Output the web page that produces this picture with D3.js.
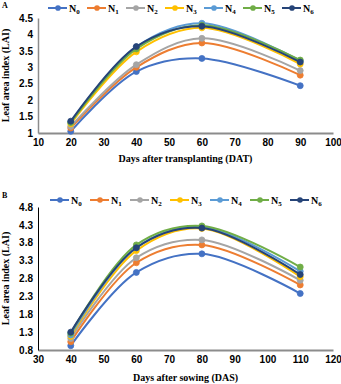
<!DOCTYPE html>
<html>
<head>
<meta charset="utf-8">
<script src="https://cdn.jsdelivr.net/npm/d3@7"></script>
<style>
  body { margin: 0; background: #fff; }
  svg { display: block; font-family: "Liberation Serif", "Times New Roman", serif; }
  .tick text { font-size: 10px; font-weight: bold; fill: #000; }
</style>
</head>
<body>
<div id="chart"></div>
<script>
const seriesNames = ['N0', 'N1', 'N2', 'N3', 'N4', 'N5', 'N6'];
const seriesColors = ['#4472C4', '#ED7D31', '#A5A5A5', '#FFC000', '#5B9BD5', '#70AD47', '#264478'];

// Panel A: days after transplanting
const daysA = [20, 40, 60, 90];
const laiA = [
    [1.05, 2.87, 3.27, 2.44],
    [1.15, 3.00, 3.74, 2.76],
    [1.20, 3.08, 3.88, 2.90],
    [1.28, 3.47, 4.20, 3.10],
    [1.33, 3.62, 4.34, 3.20],
    [1.32, 3.56, 4.28, 3.22],
    [1.36, 3.63, 4.25, 3.16]
];
const xTicksA = [10, 20, 30, 40, 50, 60, 70, 80, 90, 100];
const yTicksA = [1, 1.5, 2, 2.5, 3, 3.5, 4, 4.5];

// Panel B: days after sowing
const daysB = [40, 60, 80, 110];
const laiB = [
    [0.92, 2.97, 3.49, 2.38],
    [1.03, 3.24, 3.74, 2.62],
    [1.12, 3.38, 3.88, 2.75],
    [1.18, 3.58, 4.20, 2.85],
    [1.22, 3.66, 4.24, 3.00],
    [1.27, 3.74, 4.27, 3.12],
    [1.30, 3.66, 4.21, 2.91]
];
const xTicksB = [30, 40, 50, 60, 70, 80, 90, 100, 110, 120];
const yTicksB = [0.8, 1.3, 1.8, 2.3, 2.8, 3.3, 3.8, 4.3, 4.8];

const W = 341, H = 384;
const svg = d3.select('#chart').append('svg').attr('width', W).attr('height', H);

function drawPanel(opt) {
    const g = svg.append('g');
    const x = d3.scaleLinear().domain(d3.extent(opt.xTicks)).range([opt.left, opt.right]);
    const y = d3.scaleLinear().domain(d3.extent(opt.yTicks)).range([opt.bottom, opt.top]);

    // panel letter
    g.append('text').attr('x', 2).attr('y', opt.letterY)
        .style('font-size', '8px').style('font-weight', 'bold').text(opt.letter);

    // axes
    const xAxisG = g.append('g').attr('transform', `translate(0,${opt.bottom})`)
        .call(d3.axisBottom(x).tickValues(opt.xTicks).tickSize(0).tickPadding(6));
    xAxisG.select('.domain').attr('stroke', '#8c8c8c').attr('stroke-width', 2.2);

    const yAxisG = g.append('g').attr('transform', `translate(${opt.left},0)`)
        .call(d3.axisLeft(y).tickValues(opt.yTicks).tickSize(0).tickPadding(5)
            .tickFormat(opt.yFormat));
    yAxisG.select('.domain').attr('stroke', opt.yAxisColor).attr('stroke-width', opt.yAxisWidth);

    // axis titles
    g.append('text').attr('x', (opt.left + opt.right) / 2).attr('y', opt.xTitleY)
        .attr('text-anchor', 'middle').style('font-size', '10px').style('font-weight', 'bold')
        .text(opt.xTitle);
    g.append('text')
        .attr('transform', `translate(9,${(opt.top + opt.bottom) / 2}) rotate(-90)`)
        .attr('text-anchor', 'middle').style('font-size', '10px').style('font-weight', 'bold')
        .text('Leaf area index (LAI)');

    // series
    const line = d3.line().x(d => x(d[0])).y(d => y(d[1])).curve(d3.curveCatmullRom.alpha(0.5));
    opt.values.forEach((vals, i) => {
        const pts = opt.days.map((d, j) => [d, vals[j]]);
        g.append('path').datum(pts)
            .attr('d', line).attr('fill', 'none')
            .attr('stroke', seriesColors[i]).attr('stroke-width', 2);
        g.selectAll(null).data(pts).enter().append('circle')
            .attr('cx', d => x(d[0])).attr('cy', d => y(d[1])).attr('r', 3)
            .attr('fill', seriesColors[i]).attr('stroke', seriesColors[i]).attr('stroke-width', 0.8);
    });

    // legend
    const leg = g.append('g');
    seriesNames.forEach((name, i) => {
        const cx = opt.legendX + i * opt.legendStep;
        leg.append('line').attr('x1', cx - 10).attr('x2', cx + 9)
            .attr('y1', opt.legendY).attr('y2', opt.legendY)
            .attr('stroke', seriesColors[i]).attr('stroke-width', 2);
        leg.append('circle').attr('cx', cx).attr('cy', opt.legendY).attr('r', 2.8)
            .attr('fill', seriesColors[i]);
        const t = leg.append('text').attr('x', cx + 11).attr('y', opt.legendY + 3.5)
            .style('font-size', '10px').style('font-weight', 'bold').text('N');
        t.append('tspan').attr('dy', 2).style('font-size', '7px').text(name.slice(1));
    });
}

drawPanel({
    letter: 'A', letterY: 8,
    left: 38, right: 333, top: 18, bottom: 133,
    xTicks: xTicksA, yTicks: yTicksA, days: daysA, values: laiA,
    yFormat: d => d3.format('')(d),
    yAxisColor: '#8c8c8c', yAxisWidth: 1.5,
    xTitle: 'Days after transplanting (DAT)', xTitleY: 162,
    legendX: 58, legendStep: 39, legendY: 8
});

drawPanel({
    letter: 'B', letterY: 198,
    left: 38, right: 333, top: 207, bottom: 350,
    xTicks: xTicksB, yTicks: yTicksB, days: daysB, values: laiB,
    yFormat: d3.format('.1f'),
    yAxisColor: '#000', yAxisWidth: 1,
    xTitle: 'Days after sowing (DAS)', xTitleY: 381,
    legendX: 60, legendStep: 40, legendY: 200
});
</script>
</body>
</html>
